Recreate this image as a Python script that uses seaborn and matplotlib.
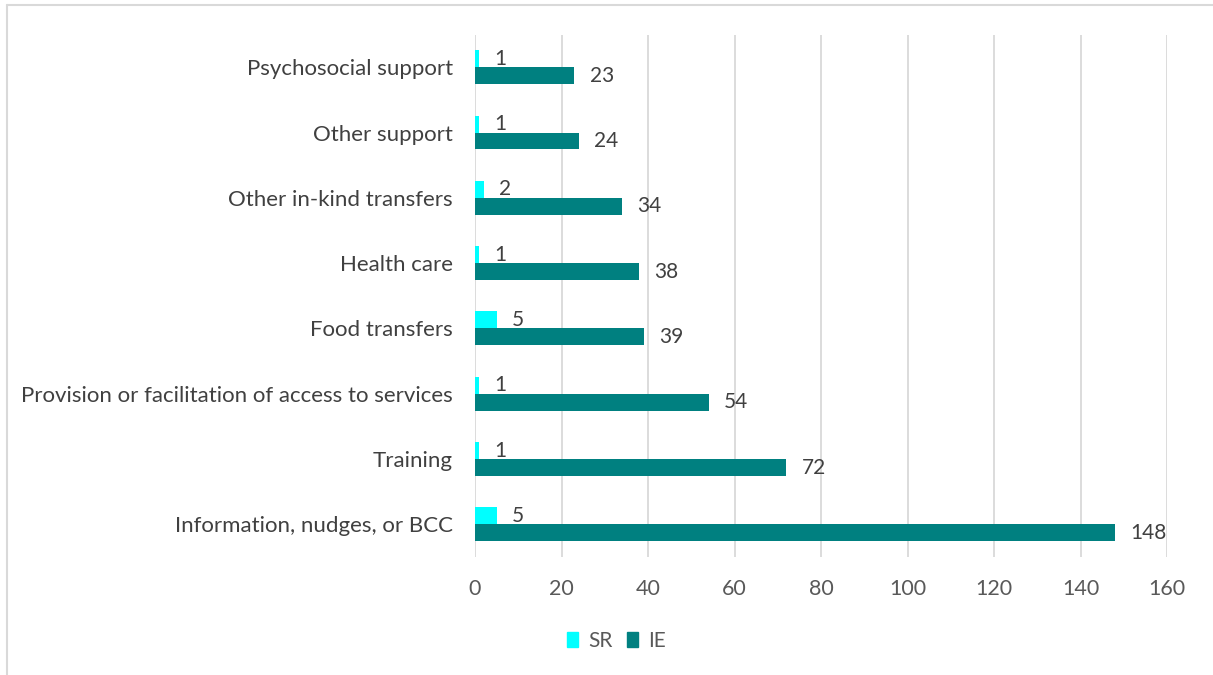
import matplotlib
matplotlib.use("Agg")
import matplotlib.pyplot as plt
import matplotlib.patches as mpatches
import seaborn as sns
import pandas as pd

categories = [
    "Psychosocial support",
    "Other support",
    "Other in-kind transfers",
    "Health care",
    "Food transfers",
    "Provision or facilitation of access to services",
    "Training",
    "Information, nudges, or BCC",
]
sr_values = [1, 1, 2, 1, 5, 1, 1, 5]
ie_values = [23, 24, 34, 38, 39, 54, 72, 148]
series = ["SR", "IE"]
x_ticks = [0, 20, 40, 60, 80, 100, 120, 140, 160]

colors = {"SR": "#00FFFF", "IE": "#008080"}

df = pd.DataFrame({
    "category": categories * 2,
    "series": ["SR"] * len(categories) + ["IE"] * len(categories),
    "value": sr_values + ie_values,
})

sns.set_theme(style="white")
plt.rcParams["font.family"] = ["Lato", "DejaVu Sans"]

fig = plt.figure(figsize=(12.13, 6.75), dpi=100)
ax = fig.add_axes([0.3916, 0.1748, 0.5705, 0.774])

sns.barplot(
    data=df, x="value", y="category", hue="series",
    order=categories, hue_order=series, palette=colors, saturation=1,
    width=0.52, dodge=True, ax=ax, legend=False, errorbar=None,
    edgecolor="none",
)

for cont in ax.containers:
    ax.bar_label(cont, fmt="%d", padding=11, fontsize=15, color="#404040")

ax.set_xlim(0, 160)
ax.set_xticks(x_ticks)
ax.set_xticklabels([str(t) for t in x_ticks])
ax.grid(axis="x", color="#D9D9D9", linewidth=1.3)
ax.grid(axis="y", visible=False)
ax.set_axisbelow(True)
for s in ax.spines.values():
    s.set_visible(False)
ax.tick_params(axis="both", length=0)
ax.tick_params(axis="x", labelsize=15.5, labelcolor="#595959", pad=16)
ax.tick_params(axis="y", labelsize=16, labelcolor="#404040", pad=16)
ax.set_xlabel("")
ax.set_ylabel("")

handles = [mpatches.Patch(color=colors[s], label=s) for s in series]
fig.legend(
    handles=handles, loc="center", bbox_to_anchor=(0.508, 0.0504), ncol=2,
    frameon=False, fontsize=15, labelcolor="#595959",
    handlelength=0.55, handleheight=0.7, handletextpad=0.45, columnspacing=0.7,
)

# thin frame on the top and left edges of the canvas
fig.add_artist(plt.Line2D([0.0058, 0.0058], [0.0, 0.9926], transform=fig.transFigure,
                          color="#D9D9D9", linewidth=1.5))
fig.add_artist(plt.Line2D([0.0058, 1.0], [0.9926, 0.9926], transform=fig.transFigure,
                          color="#D9D9D9", linewidth=1.5))

fig.savefig("out.png", dpi=100, facecolor="white")
